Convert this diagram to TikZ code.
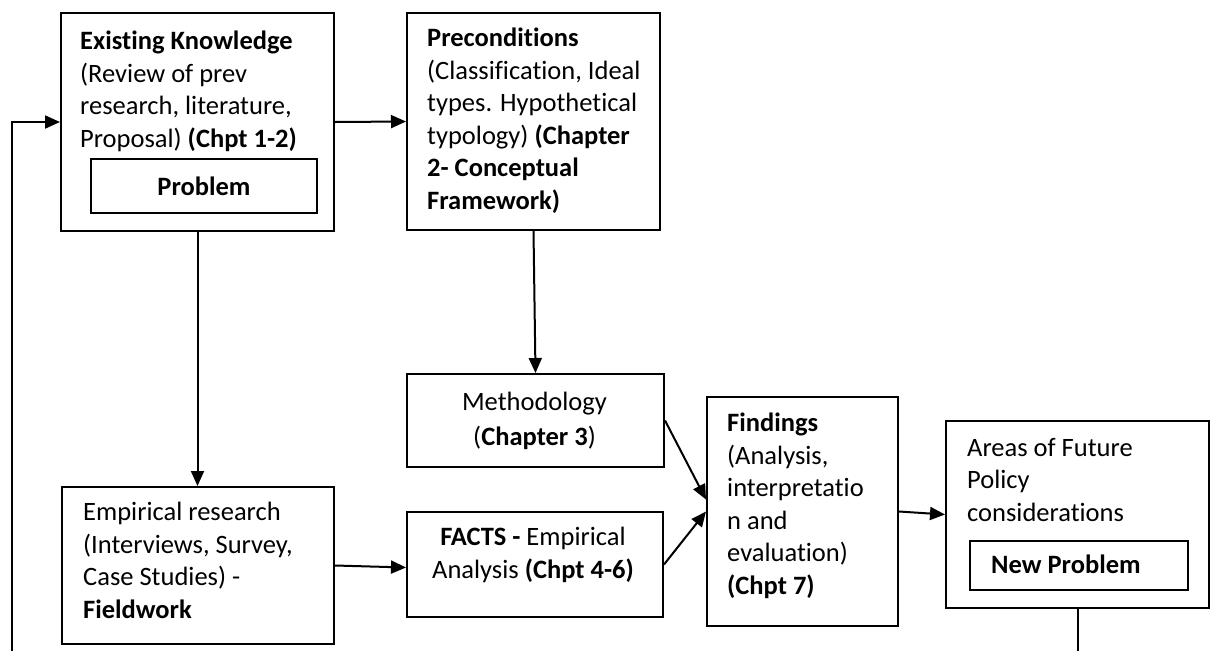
\documentclass[tikz,border=0pt]{standalone}
\usepackage{fontspec}
\setmainfont{Carlito}[RawFeature={-liga;-clig;-dlig;-calt}]
\usetikzlibrary{arrows.meta}

\begin{document}
\begin{tikzpicture}[
	x=1pt, y=-1pt,
	every node/.style={font=\fontsize{26.5}{32.5}\selectfont},
	box/.style={draw, line width=2pt, anchor=north west, inner sep=0pt},
	txt/.style={anchor=base west, align=left, inner sep=0pt},
	ctxt/.style={anchor=base, align=center, inner sep=0pt},
	link/.style={line width=2pt, -{Triangle[length=15pt,width=13pt]}}]
	\useasboundingbox (0,0) rectangle (1210,651);

	% boxes
	\node[box, minimum width=273, minimum height=218] (ek) at (60,12) {};
	\node[box, minimum width=226, minimum height=54, font=\fontsize{26.5}{32.5}\selectfont\bfseries] (prob) at (90,158) {Problem};
	\node[box, minimum width=253, minimum height=217] (pre) at (406,12) {};
	\node[box, minimum width=257, minimum height=93] (meth) at (406,373) {};
	\node[box, minimum width=256, minimum height=105] (facts) at (406,511) {};
	\node[box, minimum width=272, minimum height=157] (emp) at (61,486) {};
	\node[box, minimum width=191, minimum height=229] (find) at (706,396) {};
	\node[box, minimum width=263, minimum height=187] (area) at (945,420) {};
	\node[box, minimum width=218, minimum height=49] (newprob) at (969,540) {};

	% texts (base = last line)
	\node[txt] (ek-txt) at (80,147) {\textbf{Existing Knowledge}\\(Review of prev\\research, literature,\\Proposal) \textbf{(Chpt 1-2)}};
	\node[txt] (pre-txt) at (427,209) {\textbf{Preconditions}\\(Classification, Ideal\\types. Hypothetical\\typology) \textbf{(Chapter}\\\textbf{2- Conceptual}\\\textbf{Framework)}};
	\node[ctxt] (meth-txt) at (534.5,445) {Methodology\\[2.5pt](\textbf{Chapter 3})};
	\node[ctxt] (facts-txt) at (533,578) {\textbf{FACTS -} Empirical\\Analysis \textbf{(Chpt 4-6)}};
	\node[txt] (emp-txt) at (83,618) {Empirical research\\(Interviews, Survey,\\Case Studies) -\\\textbf{Fieldwork}};
	\node[txt] (find-txt) at (727,594) {\textbf{Findings}\\(Analysis,\\interpretatio\\n and\\evaluation)\\\textbf{(Chpt 7)}};
	\node[txt] (area-txt) at (967,521) {Areas of Future\\Policy\\considerations};
	\node[txt, font=\fontsize{26.5}{32.5}\selectfont\bfseries] (np-txt) at (991,573) {New Problem};

	% connectors
	\coordinate (loop) at (12,651);
	\draw[link] (loop) |- (ek.west);
	\draw[link] (ek.east) -- (pre.west);
	\draw[link] (ek.south) -- (ek.south |- emp.north);
	\draw[link] (pre.south) -- (meth.north);
	\draw[link] (emp.east) -- ([yshift=-3pt]facts.west);
	\draw[link] (meth.east) -- ([yshift=12pt]find.west);
	\draw[link] (facts.east) -- (find.west);
	\draw[link] (find.east) -- (area.west);
	\draw[line width=2pt] (area.south) -- (area.south |- loop);
\end{tikzpicture}
\end{document}
